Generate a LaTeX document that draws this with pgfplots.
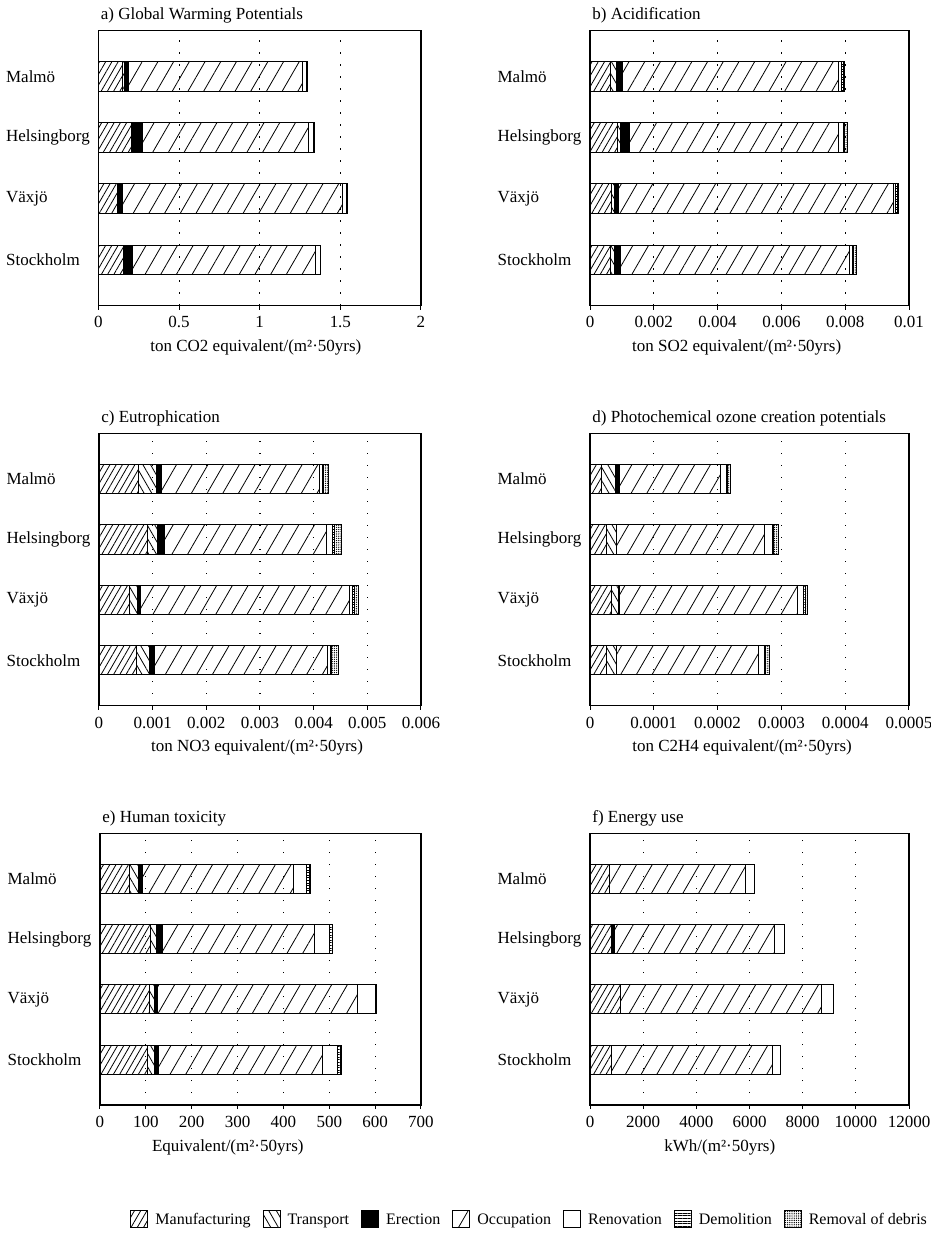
\documentclass[border=0pt]{standalone}
\usepackage{fontspec}
\setmainfont{Liberation Serif}
\usepackage{pgfplots}
\usepackage{pgfplotstable}
\pgfplotsset{compat=1.18}
\usetikzlibrary{patterns,patterns.meta}

\newcommand{\fs}{\fontsize{8.5}{10}\selectfont}

% columns: manufacturing, transport, erection, occupation, renovation, demolition, removal of debris
% y: 3 = Malmo, 2 = Helsingborg, 1 = Vaxjo, 0 = Stockholm
\pgfplotstableread{
y manuf trans erect occup renov demol debris
3 0.150 0.010 0.028 1.080 0.022 0.003 0.002
2 0.205 0.007 0.060 1.030 0.033 0.002 0.001
1 0.120 0.004 0.024 1.364 0.028 0.002 0.001
0 0.155 0.004 0.051 1.137 0.028 0.002 0.001
}\gwp
\pgfplotstableread{
y manuf trans erect occup renov demol debris
3 0.00065 0.00019 0.00018 0.00676 0.00011 0.00006 0.00004
2 0.00086 0.00010 0.00027 0.00655 0.00016 0.00005 0.00008
1 0.00068 0.00008 0.00013 0.00861 0.00009 0.00005 0.00002
0 0.00063 0.00015 0.00018 0.00717 0.00009 0.00003 0.00010
}\acid
\pgfplotstableread{
y manuf trans erect occup renov demol debris
3 0.000745 0.000325 0.00010 0.00293 0.00006 0.00002 0.00009
2 0.00090 0.00019 0.00013 0.00302 0.00012 0.00002 0.00013
1 0.00056 0.00016 0.00006 0.00388 0.00007 0.00004 0.00007
0 0.00069 0.00025 0.00009 0.00323 0.00005 0.00002 0.00013
}\eutro
\pgfplotstableread{
y manuf trans erect occup renov demol debris
3 0.0000183 0.0000209 0.0000068 0.0001580 0.0000100 0.0000020 0.0000050
2 0.0000260 0.0000148 0.0000010 0.0002314 0.0000131 0.0000020 0.0000079
1 0.0000340 0.0000110 0.0000009 0.0002796 0.0000089 0.0000040 0.0000033
0 0.0000260 0.0000148 0.0000010 0.0002220 0.0000094 0.0000020 0.0000069
}\pocp
\pgfplotstableread{
y manuf trans erect occup renov demol debris
3 64 21 8 330 27 6 2
2 111 13 13 330 33 6 1
1 107 11 8 435 40 1 1
0 103 15 9 358 32 8 2
}\htox
\pgfplotstableread{
y manuf trans erect occup renov demol debris
3 750 0 0 5090 330 0 0
2 790 0 150 5994 366 0 0
1 1150 0 0 7565 438 0 0
0 815 0 0 6045 290 0 0
}\energy

\pgfplotsset{
  sManuf/.style={draw=black, line width=0.5pt, pattern={Lines[angle=60,distance=2.7pt,line width=0.4pt]}},
  sTrans/.style={draw=black, line width=0.5pt, pattern={Lines[angle=120,distance=3.3pt,line width=0.4pt]}},
  sErect/.style={draw=black, line width=0.5pt, fill=black},
  sOccup/.style={draw=black, line width=0.5pt, pattern={Lines[angle=60,distance=6.8pt,line width=0.4pt]}},
  sRenov/.style={draw=black, line width=0.5pt, fill=white},
  sDemol/.style={draw=black, line width=0.5pt, pattern={Lines[angle=0,distance=1.3pt,line width=0.35pt]}},
  sDebris/.style={draw=black, line width=0.5pt, pattern={Dots[distance=1.1pt,radius=0.35pt]}},
  panel/.style={
    scale only axis, anchor=south west,
    xbar stacked, bar width=0.48,
    ymin=-0.75, ymax=3.75, xmin=0,
    ytick={0,1,2,3}, yticklabels={Stockholm,Växjö,Helsingborg,Malmö},
    ytick style={draw=none},
    yticklabel style={text width=44pt, align=left, inner sep=0pt, anchor=east, xshift=-2pt},
    xtick pos=bottom, xtick align=outside, major tick length=2pt,
    xmajorgrids, grid style={black, line width=0.6pt, dash pattern=on 0.6pt off 5.4pt},
    axis line style={line width=0.6pt},
    tick style={black, line width=0.5pt},
    scaled x ticks=false,
    font=\fs, ticklabel style={font=\fs},
    /pgf/number format/assume math mode=true,
    title style={at={(rel axis cs:0,1)}, anchor=west, yshift=1.75pt, xshift=1pt, inner sep=0pt, font=\fs},
    xlabel style={at={(rel axis cs:0,0)}, anchor=west, yshift=-21pt, inner sep=0pt, font=\fs},
    legend image code/.code={\draw[#1] (0pt,-4.25pt) rectangle (8.5pt,4.25pt);},
  },
}

\newcommand{\bars}[1]{%
  \addplot[sManuf] table[x=manuf,y=y] {#1};
  \addplot[sTrans] table[x=trans,y=y] {#1};
  \addplot[sErect] table[x=erect,y=y] {#1};
  \addplot[sOccup] table[x=occup,y=y] {#1};
  \addplot[sRenov] table[x=renov,y=y] {#1};
  \addplot[sDemol] table[x=demol,y=y] {#1};
  \addplot[sDebris] table[x=debris,y=y] {#1};
}

\begin{document}
\begin{tikzpicture}
\useasboundingbox (0pt,0pt) rectangle (465.5pt,-630pt);

% a
\begin{axis}[panel, at={(49.25pt,-152.75pt)}, width=161.25pt, height=137.5pt,
  xmax=2, xtick={0,0.5,1,1.5,2}, xticklabels={0,0.5,1,1.5,2},
  title={a) Global Warming Potentials},
  xlabel={ton CO2 equivalent/(m²·50yrs)}, xlabel style={xshift=25.75pt}]
\bars{\gwp}
\end{axis}

% b
\begin{axis}[panel, at={(295pt,-152.75pt)}, width=159.5pt, height=137.5pt,
  xmax=0.01, xtick={0,0.002,0.004,0.006,0.008,0.01},
  xticklabels={0,0.002,0.004,0.006,0.008,0.01},
  title={b) Acidification},
  xlabel={ton SO2 equivalent/(m²·50yrs)}, xlabel style={xshift=20.85pt}]
\bars{\acid}
\end{axis}

% c
\begin{axis}[panel, at={(49.5pt,-352.85pt)}, width=161pt, height=136pt,
  xmax=0.006, xtick={0,0.001,0.002,0.003,0.004,0.005,0.006},
  xticklabels={0,0.001,0.002,0.003,0.004,0.005,0.006},
  title={c) Eutrophication},
  xlabel={ton NO3 equivalent/(m²·50yrs)}, xlabel style={xshift=25.85pt}]
\bars{\eutro}
\end{axis}

% d
\begin{axis}[panel, at={(295pt,-352.85pt)}, width=159.5pt, height=136pt,
  xmax=0.0005, xtick={0,0.0001,0.0002,0.0003,0.0004,0.0005},
  xticklabels={0,0.0001,0.0002,0.0003,0.0004,0.0005},
  title={d) Photochemical ozone creation potentials},
  xlabel={ton C2H4 equivalent/(m²·50yrs)}, xlabel style={xshift=21pt}]
\bars{\pocp}
\end{axis}

% e
\begin{axis}[panel, at={(50pt,-552.5pt)}, width=160.5pt, height=135.75pt,
  xmax=700, xtick={0,100,200,300,400,500,600,700},
  xticklabels={0,100,200,300,400,500,600,700},
  title={e) Human toxicity},
  xlabel={Equivalent/(m²·50yrs)}, xlabel style={xshift=25.85pt},
  legend columns=7,
  legend style={at={(axis description cs:2.59,-0.42)}, anchor=east, draw=none,
    font=\fontsize{8}{9.5}\selectfont, nodes={text height=1.6ex, text depth=0.35ex},
    inner sep=0pt, /tikz/every odd column/.append style={column sep=1.5pt},
    /tikz/every even column/.append style={column sep=4pt}}]
\bars{\htox}
\legend{Manufacturing,Transport,Erection,Occupation,Renovation,Demolition,Removal of debris}
\end{axis}

% f
\begin{axis}[panel, at={(295pt,-552.5pt)}, width=159.5pt, height=135.75pt,
  xmax=12000, xtick={0,2000,4000,6000,8000,10000,12000},
  xticklabels={0,2000,4000,6000,8000,10000,12000},
  title={f) Energy use},
  xlabel={kWh/(m²·50yrs)}, xlabel style={xshift=37pt}]
\bars{\energy}
\end{axis}
\end{tikzpicture}
\end{document}
